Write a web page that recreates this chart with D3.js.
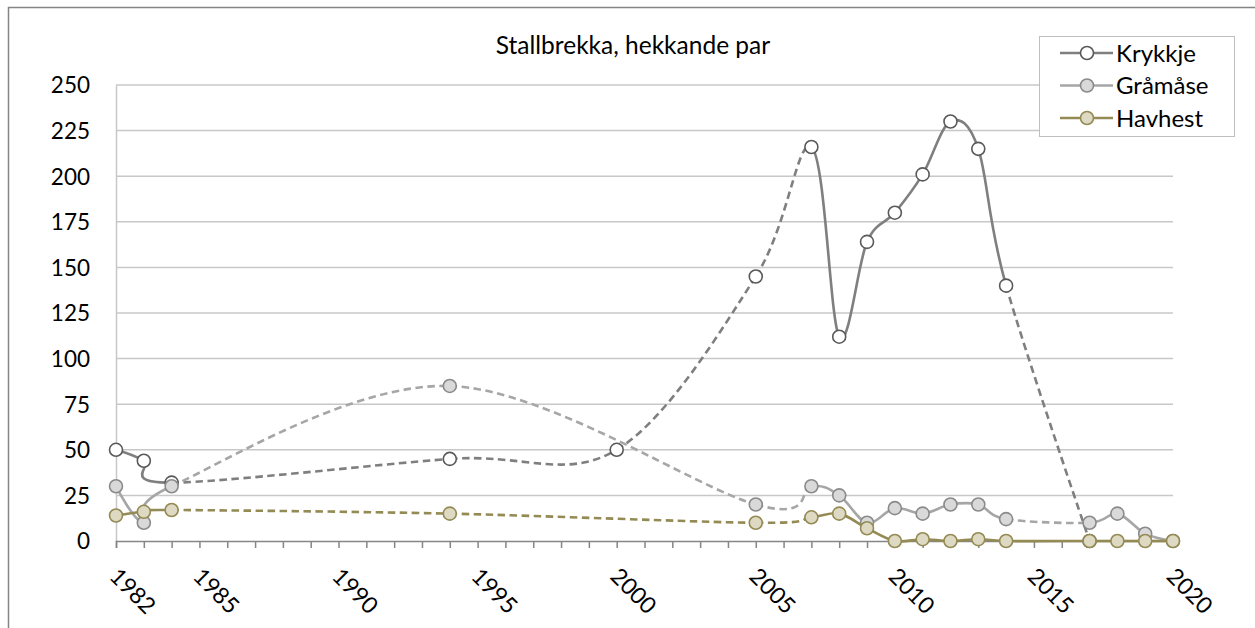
<!DOCTYPE html>
<html>
<head>
<meta charset="utf-8">
<script src="https://cdn.jsdelivr.net/npm/d3@7"></script>
<style>
  body { margin: 0; background: #fff; }
  svg text { font-family: Lato, "Open Sans", sans-serif; fill: #000; }
</style>
</head>
<body>
<div id="chart"></div>
<script>
// data
const krykkjeYears = [1982, 1983, 1984, 1994, 2000, 2005, 2007, 2008, 2009, 2010, 2011, 2012, 2013, 2014, 2017];
const krykkjeValues = [50, 44, 32, 45, 50, 145, 216, 112, 164, 180, 201, 230, 215, 140, 0];
const krykkjeDashedFrom = [1984, 1994, 2000, 2005, 2014];

const gramaseYears = [1982, 1983, 1984, 1994, 2005, 2007, 2008, 2009, 2010, 2011, 2012, 2013, 2014, 2017, 2018, 2019, 2020];
const gramaseValues = [30, 10, 30, 85, 20, 30, 25, 10, 18, 15, 20, 20, 12, 10, 15, 4, 0];
const gramaseDashedFrom = [1984, 1994, 2005, 2014];

const havhestYears = [1982, 1983, 1984, 1994, 2005, 2007, 2008, 2009, 2010, 2011, 2012, 2013, 2014, 2017, 2018, 2019, 2020];
const havhestValues = [14, 16, 17, 15, 10, 13, 15, 7, 0, 1, 0, 1, 0, 0, 0, 0, 0];
const havhestDashedFrom = [1984, 1994, 2005];

const yTicks = [0, 25, 50, 75, 100, 125, 150, 175, 200, 225, 250];
const xLabels = [1982, 1985, 1990, 1995, 2000, 2005, 2010, 2015, 2020];
const chartTitle = "Stallbrekka, hekkande par";

const series = [
    { name: "Krykkje", years: krykkjeYears, values: krykkjeValues, dashed: krykkjeDashedFrom,
      line: "#7f7f7f", fill: "#ffffff", stroke: "#595959" },
    { name: "Gråmåse", years: gramaseYears, values: gramaseValues, dashed: gramaseDashedFrom,
      line: "#a6a6a6", fill: "#d9d9d9", stroke: "#8a8a8a" },
    { name: "Havhest", years: havhestYears, values: havhestValues, dashed: havhestDashedFrom,
      line: "#948a54", fill: "#ddd9c3", stroke: "#948a54" }
];

const W = 1255, H = 628;
const svg = d3.select("#chart").append("svg").attr("width", W).attr("height", H);

// outer chart border (runs off the right and bottom edge)
svg.append("rect")
    .attr("x", 8.5).attr("y", 7.5)
    .attr("width", 1300).attr("height", 700)
    .attr("fill", "none").attr("stroke", "#858585").attr("stroke-width", 1.5);

const xScale = d3.scaleLinear().domain([1982, 2020]).range([116, 1173]);
const yScale = d3.scaleLinear().domain([0, 250]).range([541, 85]);

// gridlines
svg.append("g")
    .selectAll("line")
    .data(yTicks.filter(d => d > 0))
    .enter()
    .append("line")
    .attr("x1", xScale(1982)).attr("x2", xScale(2020))
    .attr("y1", d => yScale(d)).attr("y2", d => yScale(d))
    .attr("stroke", "#c8c8c8").attr("stroke-width", 1.5);

// y axis
let yAxis = svg.append("g")
    .attr("transform", "translate(" + xScale(1982) + ",0)")
    .call(d3.axisLeft(yScale).tickValues(yTicks).tickSize(0).tickPadding(26));
yAxis.select(".domain").attr("stroke", "#c8c8c8").attr("stroke-width", 1.5);
yAxis.selectAll("text").style("font-size", "22.5px").attr("dy", "0.35em");

// x axis: a tick every year, labels on selected years
let xAxis = svg.append("g")
    .attr("transform", "translate(0," + yScale(0) + ")")
    .call(d3.axisBottom(xScale).tickValues(d3.range(1982, 2021)).tickSize(7).tickFormat(""));
xAxis.select(".domain").attr("stroke", "#868686").attr("stroke-width", 1.5);
xAxis.selectAll(".tick line").attr("stroke", "#868686").attr("stroke-width", 1.5);

svg.append("g")
    .selectAll("text")
    .data(xLabels)
    .enter()
    .append("text")
    .attr("transform", d => "translate(" + (xScale(d) + 4) + ",566) rotate(45)")
    .attr("dy", "0.72em")
    .style("font-size", "23px")
    .text(d => d);

// title
svg.append("text")
    .attr("x", 633).attr("y", 54)
    .attr("text-anchor", "middle")
    .style("font-size", "24.5px")
    .text(chartTitle);

// split a smoothed line into one path per segment
function segmentPaths(years, values) {
    const segs = [];
    let last = null;
    const ctx = {
        moveTo(x, y) { last = [x, y]; },
        lineTo(x, y) { segs.push("M" + last[0] + "," + last[1] + "L" + x + "," + y); last = [x, y]; },
        bezierCurveTo(a, b, c, d, x, y) {
            segs.push("M" + last[0] + "," + last[1] + "C" + a + "," + b + "," + c + "," + d + "," + x + "," + y);
            last = [x, y];
        },
        closePath() {}
    };
    d3.line()
        .x(i => xScale(years[i]))
        .y(i => yScale(values[i]))
        .curve(d3.curveCardinal.tension(0))
        .context(ctx)(d3.range(years.length));
    return segs;
}

series.forEach(s => {
    const segs = segmentPaths(s.years, s.values);
    const g = svg.append("g");
    g.selectAll("path")
        .data(segs)
        .enter()
        .append("path")
        .attr("d", d => d)
        .attr("fill", "none")
        .attr("stroke", s.line)
        .attr("stroke-width", 2.6)
        .attr("stroke-dasharray", (d, i) => s.dashed.includes(s.years[i]) ? "7.5,4.5" : null);

    g.selectAll("circle")
        .data(s.years)
        .enter()
        .append("circle")
        .attr("cx", d => xScale(d))
        .attr("cy", (d, i) => yScale(s.values[i]))
        .attr("r", 6.5)
        .attr("fill", s.fill)
        .attr("stroke", s.stroke)
        .attr("stroke-width", 1.6);
});

// legend
const legend = svg.append("g");
legend.append("rect")
    .attr("x", 1039.5).attr("y", 36.5)
    .attr("width", 195).attr("height", 100)
    .attr("fill", "#fff").attr("stroke", "#bfbfbf").attr("stroke-width", 1);

series.forEach((s, i) => {
    const y = 53 + i * 32.5;
    legend.append("line")
        .attr("x1", 1060).attr("x2", 1113)
        .attr("y1", y).attr("y2", y)
        .attr("stroke", s.line).attr("stroke-width", 2.6);
    legend.append("circle")
        .attr("cx", 1087).attr("cy", y).attr("r", 6.5)
        .attr("fill", s.fill).attr("stroke", s.stroke).attr("stroke-width", 1.6);
    legend.append("text")
        .attr("x", 1116).attr("y", y)
        .attr("dy", "0.36em")
        .style("font-size", "24px")
        .text(s.name);
});
</script>
</body>
</html>
